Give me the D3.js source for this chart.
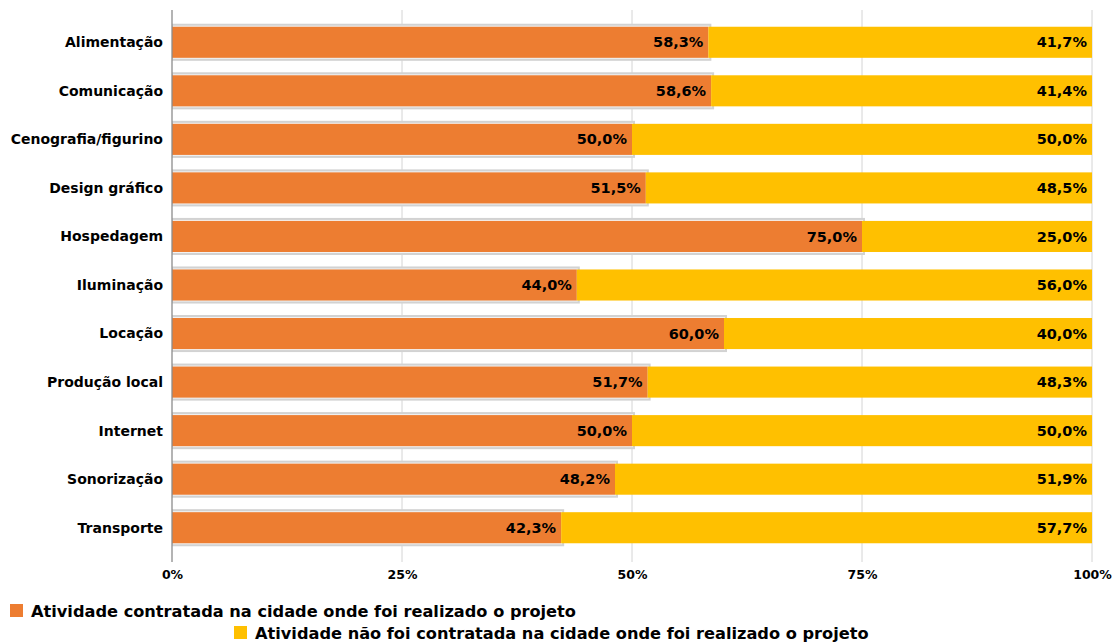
<!DOCTYPE html>
<html>
<head>
<meta charset="utf-8">
<style>
  body { margin: 0; background: #fff; }
  text { font-family: "DejaVu Sans", "Liberation Sans", Arial, sans-serif; font-weight: bold; fill: #000; }
</style>
</head>
<body>
<svg width="1115" height="644"></svg>
<script src="https://d3js.org/d3.v7.min.js"></script>
<script>

var categories = ["Alimentação", "Comunicação", "Cenografia/figurino", "Design gráfico", "Hospedagem",
                  "Iluminação", "Locação", "Produção local", "Internet", "Sonorização", "Transporte"];
var contratada = [58.3, 58.6, 50.0, 51.5, 75.0, 44.0, 60.0, 51.7, 50.0, 48.2, 42.3];
var naoContratada = [41.7, 41.4, 50.0, 48.5, 25.0, 56.0, 40.0, 48.3, 50.0, 51.9, 57.7];
var tickValues = [0, 25, 50, 75, 100];
var seriesNames = ["Atividade contratada na cidade onde foi realizado o projeto",
                   "Atividade não foi contratada na cidade onde foi realizado o projeto"];
var colors = ["#ED7D31", "#FFC000"];

var svg = d3.select("svg"),
    margin = {top: 18, left: 172, right: 23, bottom: 92},
    width = 1115 - margin.left - margin.right,
    height = 644 - margin.top - margin.bottom;

var data = categories.map(function(c, i) {
  var total = contratada[i] + naoContratada[i];
  return {cat: c, a: contratada[i], b: naoContratada[i], total: total};
});

var x = d3.scaleLinear().domain([0, 100]).range([margin.left, margin.left + width]);
var y = d3.scaleBand().domain(categories).range([margin.top, margin.top + height]).paddingInner(0.36).paddingOuter(0.18);

// gridlines + ticks
svg.append("g").selectAll("line").data(tickValues.filter(function(d) { return d > 0; }))
  .enter().append("line")
  .attr("x1", function(d) { return x(d); }).attr("x2", function(d) { return x(d); })
  .attr("y1", 10).attr("y2", 562)
  .attr("stroke", "#d4d4d4").attr("stroke-width", 1);

var bars = svg.append("g").selectAll("g").data(data).enter().append("g");

// shadow box behind orange bars
bars.append("rect")
  .attr("x", x(0))
  .attr("y", function(d) { return y(d.cat) - 3; })
  .attr("width", function(d) { return x(d.a / d.total * 100) - x(0) + 3; })
  .attr("height", y.bandwidth() + 6)
  .attr("fill", "#d2d2d2");
bars.append("rect")
  .attr("x", x(0) + 1)
  .attr("y", function(d) { return y(d.cat) - 1; })
  .attr("width", function(d) { return x(d.a / d.total * 100) - x(0); })
  .attr("height", y.bandwidth() + 2)
  .attr("fill", "#f2f2f2");

bars.append("rect")
  .attr("x", x(0))
  .attr("y", function(d) { return y(d.cat); })
  .attr("width", function(d) { return x(d.a / d.total * 100) - x(0); })
  .attr("height", y.bandwidth())
  .attr("fill", colors[0]);

bars.append("rect")
  .attr("x", function(d) { return x(d.a / d.total * 100); })
  .attr("y", function(d) { return y(d.cat); })
  .attr("width", function(d) { return x(100) - x(d.a / d.total * 100); })
  .attr("height", y.bandwidth())
  .attr("fill", colors[1]);

bars.append("text")
  .attr("x", function(d) { return x(d.a / d.total * 100) - 5; })
  .attr("y", function(d) { return y(d.cat) + y.bandwidth() / 2; })
  .attr("dy", "0.35em").attr("text-anchor", "end").style("font-size", "14.5px")
  .text(function(d) { return d.a.toFixed(1).replace(".", ",") + "%"; });

bars.append("text")
  .attr("x", x(100) - 5)
  .attr("y", function(d) { return y(d.cat) + y.bandwidth() / 2; })
  .attr("dy", "0.35em").attr("text-anchor", "end").style("font-size", "14.5px")
  .text(function(d) { return d.b.toFixed(1).replace(".", ",") + "%"; });

// category axis
var yAxis = svg.append("g").attr("transform", "translate(" + margin.left + ",0)")
  .call(d3.axisLeft(y).tickSize(0).tickPadding(9));
yAxis.select(".domain").remove();
yAxis.selectAll("text").style("font-size", "14px").attr("dy", "0.35em");
svg.append("line").attr("x1", x(0)).attr("x2", x(0)).attr("y1", 10).attr("y2", 562)
  .attr("stroke", "#8c8c8c").attr("stroke-width", 1.3);

// value axis
var xAxis = svg.append("g").attr("transform", "translate(0,562)")
  .call(d3.axisBottom(x).tickValues(tickValues).tickSize(0).tickPadding(8)
    .tickFormat(function(d) { return d + "%"; }));
xAxis.select(".domain").remove();
xAxis.selectAll("text").style("font-size", "12.5px");

// legend
var legendPos = [[10, 611], [234, 633]];
var legend = svg.append("g").selectAll("g").data(seriesNames).enter().append("g")
  .attr("transform", function(d, i) { return "translate(" + legendPos[i][0] + "," + legendPos[i][1] + ")"; });
legend.append("rect").attr("x", 0).attr("y", -7).attr("width", 13).attr("height", 13)
  .attr("fill", function(d, i) { return colors[i]; });
legend.append("text").attr("x", 21).attr("dy", "0.35em").style("font-size", "16.2px")
  .text(function(d) { return d; });

</script>
</body>
</html>
